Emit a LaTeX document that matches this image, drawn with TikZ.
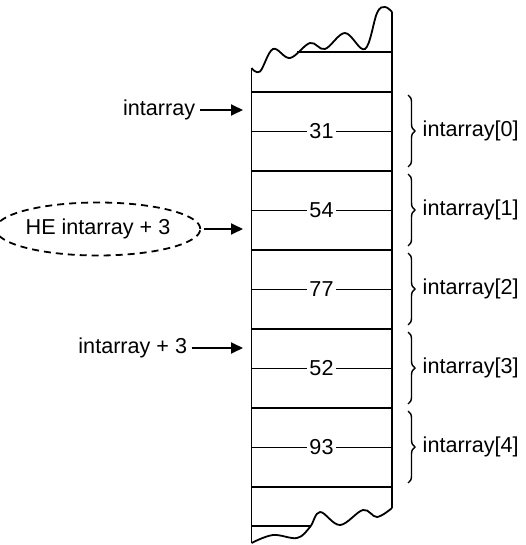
\documentclass[tikz,border=0pt]{standalone}
\usepackage{fontspec}
\setmainfont{Liberation Sans}
\usetikzlibrary{arrows.meta,shapes.geometric,decorations.pathreplacing}

\begin{document}
\begin{tikzpicture}[x=0.5pt, y=-0.5pt, line width=0.9pt,
  every node/.style={font=\fontsize{10.8}{12}\selectfont},
  ptr/.style={-{Triangle[length=6pt,width=5.5pt]}, line width=0.9pt},
  lab/.style={anchor=east, inner sep=2pt},
  val/.style={inner sep=1pt},
  brc/.style={decorate, decoration={brace, amplitude=3.5pt}, line width=0.7pt}]
  \useasboundingbox (0,0) rectangle (525,545);
  % Memory column, torn at both ends
  \draw plot[smooth, tension=0.6] coordinates {(251.5,68) (260,71.5) (273,49) (290,58) (310,43)
    (325,49) (345,33) (365,49) (377,13) (385,7) (392,12)};
  \draw plot[smooth, tension=0.6] coordinates {(251.5,543) (273,535) (297,538) (310,527) (320,512)
    (340,525) (363,510) (377,517) (392,508)};
  \draw (251.5,68) -- (251.5,543);
  \draw (392,12) -- (392,508);
  \draw (297,52) -- (392,52);
  \draw (251.5,526) -- (310,526);
  % Element borders
  \draw (251.5,92) -- (392,92);
  \draw (251.5,171) -- (392,171);
  \draw (251.5,250) -- (392,250);
  \draw (251.5,329) -- (392,329);
  \draw (251.5,408) -- (392,408);
  \draw (251.5,487) -- (392,487);
  % Stored values
  \node[val] (v0) at (321.5,131.5) {31};
  \node[val] (v1) at (321.5,210.5) {54};
  \node[val] (v2) at (321.5,289.5) {77};
  \node[val] (v3) at (321.5,368.5) {52};
  \node[val] (v4) at (321.5,447.5) {93};
  \draw (251.5,131.5) -- (v0) -- (392,131.5);
  \draw (251.5,210.5) -- (v1) -- (392,210.5);
  \draw (251.5,289.5) -- (v2) -- (392,289.5);
  \draw (251.5,368.5) -- (v3) -- (392,368.5);
  \draw (251.5,447.5) -- (v4) -- (392,447.5);
  % Braces and element names
  \draw[brc] (408,95) -- (408,167) node[midway, right=7pt, inner sep=0pt] (e0) {intarray[0]};
  \draw[brc] (408,174) -- (408,246) node[midway, right=7pt, inner sep=0pt] (e1) {intarray[1]};
  \draw[brc] (408,253) -- (408,325) node[midway, right=7pt, inner sep=0pt] (e2) {intarray[2]};
  \draw[brc] (408,332) -- (408,404) node[midway, right=7pt, inner sep=0pt] (e3) {intarray[3]};
  \draw[brc] (408,411) -- (408,483) node[midway, right=7pt, inner sep=0pt] (e4) {intarray[4]};
  % Pointers
  \coordinate (t0) at (243,110);
  \coordinate (t1) at (243,229);
  \coordinate (t2) at (243,348);
  \node[lab] (p0) at (200,110) {intarray};
  \node[ellipse, draw, dashed, dash pattern=on 3.5pt off 2.5pt, line width=0.9pt,
    minimum width=93.5pt, minimum height=26.5pt, inner sep=0pt] (p1) at (98,229) {HE intarray + 3};
  \node[lab] (p2) at (192,348) {intarray + 3};
  \draw[ptr] (p0) -- (t0);
  \draw[ptr, shorten <=1.5pt] (p1) -- (t1);
  \draw[ptr] (p2) -- (t2);
\end{tikzpicture}
\end{document}
